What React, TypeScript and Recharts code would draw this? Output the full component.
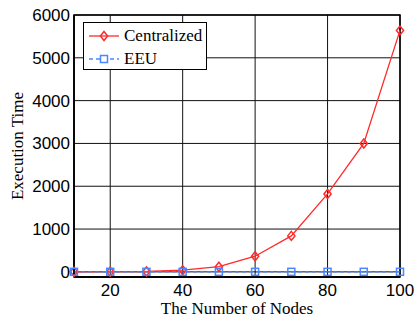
import React from 'react';
import { LineChart, Line, XAxis, YAxis, CartesianGrid, ReferenceArea } from 'recharts';

const nodes = [10, 20, 30, 40, 50, 60, 70, 80, 90, 100];
const centralized = [2, 4, 8, 40, 120, 365, 840, 1820, 3000, 5640];
const eeu = [1, 1, 1, 1, 1, 1, 1, 1, 1, 1];
const xTicks = [20, 40, 60, 80, 100];
const yTicks = [0, 1000, 2000, 3000, 4000, 5000, 6000];
const seriesNames = ['Centralized', 'EEU'];

const data = nodes.map((n, i) => ({ n, c: centralized[i], e: eeu[i] }));

const RED = '#ff2a2a';
const BLUE = '#4a86ff';
const SERIF = '"Liberation Serif", "Times New Roman", serif';
const SANS = '"Liberation Sans", Arial, sans-serif';

const Diamond = (props: any) => {
  const { cx, cy } = props;
  if (cx == null || cy == null) return null;
  const r = 4.5;
  return (
    <polygon
      key={`d-${cx}`}
      points={`${cx},${cy - r} ${cx + r * 0.8},${cy} ${cx},${cy + r} ${cx - r * 0.8},${cy}`}
      fill="none"
      stroke={RED}
      strokeWidth={1.5}
    />
  );
};

const Square = (props: any) => {
  const { cx, cy } = props;
  if (cx == null || cy == null) return null;
  const r = 3.5;
  return <rect key={`s-${cx}`} x={cx - r} y={cy - r} width={2 * r} height={2 * r} fill="none" stroke={BLUE} strokeWidth={1.5} />;
};

const LegendBox = () => (
  <div
    style={{
      position: 'absolute',
      left: 83,
      top: 22,
      border: '1.5px solid #000',
      background: '#fff',
      width: 124,
      height: 48,
      boxSizing: 'border-box',
      fontFamily: SERIF,
      fontSize: 17,
      lineHeight: '22px',
      color: '#000',
      padding: '1px 0 0 5px',
    }}
  >
    <div style={{ display: 'flex', alignItems: 'center', height: 23 }}>
      <svg width={32} height={12}>
        <line x1={0} y1={6} x2={30} y2={6} stroke={RED} strokeWidth={1.3} />
        <polygon points="15,1.5 18.6,6 15,10.5 11.4,6" fill="none" stroke={RED} strokeWidth={1.5} />
      </svg>
      <span style={{ marginLeft: 3 }}>{seriesNames[0]}</span>
    </div>
    <div style={{ display: 'flex', alignItems: 'center', height: 23 }}>
      <svg width={32} height={12}>
        <line x1={0} y1={6} x2={30} y2={6} stroke={BLUE} strokeWidth={1.3} strokeDasharray="4 3" />
        <rect x={11.5} y={2.5} width={7} height={7} fill="#fff" stroke={BLUE} strokeWidth={1.5} />
      </svg>
      <span style={{ marginLeft: 3 }}>{seriesNames[1]}</span>
    </div>
  </div>
);

const YLabel = (props: any) => {
  const vb = props.viewBox || {};
  const cx = 17;
  const cy = vb.y + vb.height / 2;
  return (
    <text x={cx} y={cy} transform={`rotate(-90 ${cx} ${cy})`} textAnchor="middle" dominantBaseline="central" fontFamily={SERIF} fontSize={17} fill="#000">
      Execution Time
    </text>
  );
};

const XLabel = (props: any) => {
  const vb = props.viewBox || {};
  const cx = vb.x + vb.width / 2;
  return (
    <text x={cx} y={314} textAnchor="middle" fontFamily={SERIF} fontSize={17} fill="#000">
      The Number of Nodes
    </text>
  );
};

export default function App() {
  return (
    <div style={{ position: 'absolute', left: 0, top: 0, width: 416, height: 320, background: '#fff' }}>
      <LineChart width={416} height={320} data={data} margin={{ top: 15, right: 16, bottom: 0, left: 0 }}>
        <CartesianGrid stroke="#111" strokeWidth={1} />
        <XAxis
          dataKey="n"
          type="number"
          domain={[10, 100]}
          ticks={xTicks}
          height={43}
          tickSize={0}
          tickMargin={7}
          axisLine={{ stroke: '#000', strokeWidth: 2 }}
          tick={{ fontFamily: SANS, fontSize: 17, fill: '#000' }}
          label={<XLabel />}
        />
        <YAxis
          type="number"
          domain={[-120, 6000]}
          ticks={yTicks}
          width={74}
          tickSize={0}
          tickMargin={4}
          axisLine={{ stroke: '#000', strokeWidth: 1.5 }}
          tick={{ fontFamily: SANS, fontSize: 17, fill: '#000' }}
          label={<YLabel />}
          allowDataOverflow
        />
        <ReferenceArea x1={10} x2={100} y1={-120} y2={6000} fill="none" stroke="#000" strokeWidth={1.5} ifOverflow="visible" />
        <Line
          type="linear"
          dataKey="c"
          name={seriesNames[0]}
          stroke={RED}
          strokeWidth={1.3}
          dot={<Diamond />}
          isAnimationActive={false}
        />
        <Line
          type="linear"
          dataKey="e"
          name={seriesNames[1]}
          stroke={BLUE}
          strokeWidth={1.3}
          strokeDasharray="4 3"
          dot={<Square />}
          isAnimationActive={false}
        />
      </LineChart>
      <LegendBox />
    </div>
  );
}
